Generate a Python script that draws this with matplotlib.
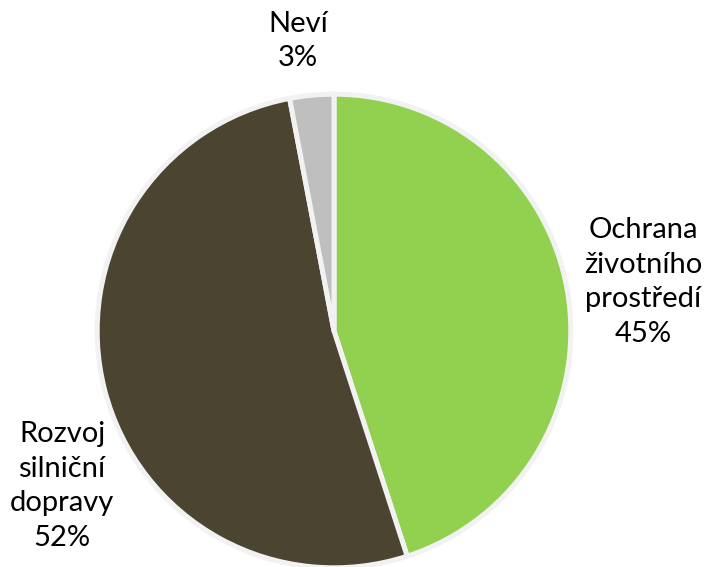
import matplotlib
matplotlib.use("Agg")
import matplotlib.pyplot as plt

categories = ["Ochrana\nživotního\nprostředí", "Rozvoj\nsilniční\ndopravy", "Neví"]
shares = [45, 52, 3]
colors = ["#92D050", "#4A4430", "#BFBFBF"]
label_pos = [(1.298, 0.206), (-1.143, -0.651), (-0.151, 1.218)]

plt.rcParams["font.family"] = ["Lato", "DejaVu Sans"]

fig = plt.figure(figsize=(7.15, 5.67), dpi=100)
ax = fig.add_axes([96 / 715, -2 / 567, 476 / 715, 476 / 567])
wedges, _ = ax.pie(shares, colors=colors, startangle=90, counterclock=False,
                   radius=0.995,
                   wedgeprops=dict(edgecolor="#F2F2F2", linewidth=3.6))
ax.set_xlim(-1, 1); ax.set_ylim(-1, 1)
ax.set_aspect("equal")
ax.axis("off")

for cat, val, (x, y) in zip(categories, shares, label_pos):
    ax.text(x, y, f"{cat}\n{val}%", ha="center", va="center", fontsize=21,
            linespacing=1.4, color="black", clip_on=False)

fig.savefig("out.png")
